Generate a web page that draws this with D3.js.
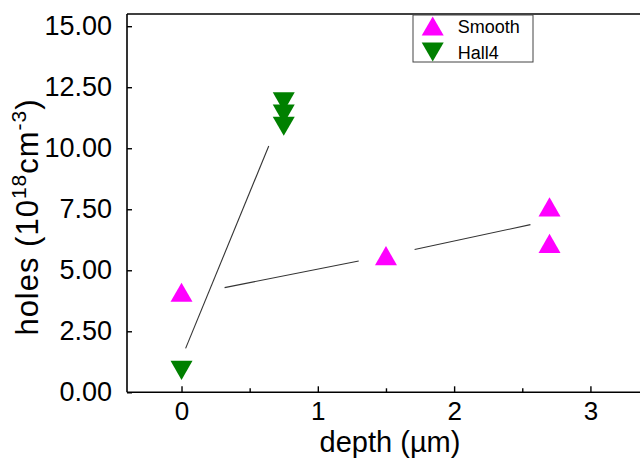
<!DOCTYPE html>
<html>
<head>
<meta charset="utf-8">
<script src="https://cdn.jsdelivr.net/npm/d3@7"></script>
<style>
  body { margin: 0; background: #fff; }
  svg { display: block; font-family: Arial, "Liberation Sans", sans-serif; }
</style>
</head>
<body>
<div id="chart"></div>
<script>
// data
const smoothX = [0, 1.5, 2.7, 2.7];
const smoothY = [4.1, 5.6, 7.6, 6.1];
const hallX = [0, 0.75, 0.75, 0.75];
const hallY = [0.9, 11.9, 11.4, 10.9];

// drawn fit lines (segments, broken where they pass a symbol)
const fitHall = [[[0.03, 1.8], [0.64, 10.09]]];
const fitSmooth = [[[0.316, 4.29], [1.30, 5.38]], [[1.71, 5.85], [2.56, 6.87]]];

const xTicks = [0, 1, 2, 3];
const xMinor = [0.5, 1.5, 2.5];
const yTicks = [0, 2.5, 5, 7.5, 10, 12.5, 15];
const seriesNames = ["Smooth", "Hall4"];
const seriesColors = ["#ff00ff", "#008000"];

const W = 640, H = 462;
const mLeft = 127, mTop = 14, mBottom = 392.3;

const x = d3.scaleLinear().domain([-0.4, 3.5]).range([mLeft, mLeft + 3.9 * 136.3]);
const y = d3.scaleLinear().domain([0, 15.5]).range([mBottom, mTop]);

const svg = d3.select("#chart").append("svg")
    .attr("width", W)
    .attr("height", H);

// triangles, up or down, centred on the point
const triUp = "M0,-9.6L11,9.6L-11,9.6Z";
const triDown = "M0,9.6L11,-9.6L-11,-9.6Z";

// fit lines
const line = d3.line().x(d => x(d[0])).y(d => y(d[1]));
svg.selectAll("path.fit")
    .data(fitHall.concat(fitSmooth))
    .join("path")
    .attr("class", "fit")
    .attr("d", line)
    .attr("fill", "none")
    .attr("stroke", "#333")
    .attr("stroke-width", 1.1);

// x axis (ticks pointing inward)
const xAxis = svg.append("g")
    .attr("transform", `translate(0,${mBottom})`)
    .call(d3.axisBottom(x).tickValues(xTicks).tickSize(-6).tickPadding(9).tickFormat(d3.format("d")));
svg.append("g")
    .attr("transform", `translate(0,${mBottom})`)
    .call(d3.axisBottom(x).tickValues(xMinor).tickSize(-4).tickFormat(""))
    .call(g => g.select(".domain").remove());

// y axis
const yAxis = svg.append("g")
    .attr("transform", `translate(${mLeft},0)`)
    .call(d3.axisLeft(y).tickValues(yTicks).tickSize(-5).tickPadding(15).tickFormat(d3.format(".2f")));

svg.selectAll(".domain").attr("stroke", "#000").attr("stroke-width", 1.6);
xAxis.select(".domain").attr("d", `M${mLeft},0H${W}`);
yAxis.select(".domain").attr("d", `M0,${mBottom}V${mTop}`);
svg.selectAll(".tick line").attr("stroke", "#000").attr("stroke-width", 1.4);
svg.selectAll(".tick text").attr("fill", "#000").style("font-size", "27px");
xAxis.selectAll(".tick text").style("font-size", "26px");

// top frame line
svg.append("line")
    .attr("x1", mLeft).attr("x2", W)
    .attr("y1", mTop).attr("y2", mTop)
    .attr("stroke", "#000").attr("stroke-width", 1.6);

// points
svg.selectAll("path.smooth")
    .data(d3.zip(smoothX, smoothY))
    .join("path")
    .attr("class", "smooth")
    .attr("d", triUp)
    .attr("transform", d => `translate(${x(d[0])},${y(d[1])})`)
    .attr("fill", seriesColors[0]);

svg.selectAll("path.hall")
    .data(d3.zip(hallX, hallY))
    .join("path")
    .attr("class", "hall")
    .attr("d", triDown)
    .attr("transform", d => `translate(${x(d[0])},${y(d[1])})`)
    .attr("fill", seriesColors[1]);

// axis titles
svg.append("text")
    .attr("x", 390).attr("y", 452)
    .attr("text-anchor", "middle")
    .style("font-size", "29px")
    .text("depth (µm)");

const yt = svg.append("text")
    .attr("transform", "translate(38,217) rotate(-90)")
    .attr("text-anchor", "middle")
    .style("font-size", "31px")
    .style("letter-spacing", "1px");
yt.append("tspan").text("holes (10");
yt.append("tspan").attr("dy", -12).style("font-size", "21px").text("18");
yt.append("tspan").attr("dy", 12).text("cm");
yt.append("tspan").attr("dy", -12).style("font-size", "21px").text("-3");
yt.append("tspan").attr("dy", 12).text(")");

// legend
const legend = svg.append("g");
legend.append("rect")
    .attr("x", 413).attr("y", 15)
    .attr("width", 120).attr("height", 47)
    .attr("fill", "#fff")
    .attr("stroke", "#444").attr("stroke-width", 1);
const rows = legend.selectAll("g.row")
    .data(seriesNames)
    .join("g")
    .attr("class", "row")
    .attr("transform", (d, i) => `translate(432.7,${26 + i * 26})`);
rows.append("path")
    .attr("d", (d, i) => i === 0 ? triUp : triDown)
    .attr("fill", (d, i) => seriesColors[i]);
rows.append("text")
    .attr("x", 25).attr("y", 7)
    .style("font-size", "18px")
    .text(d => d);
</script>
</body>
</html>
